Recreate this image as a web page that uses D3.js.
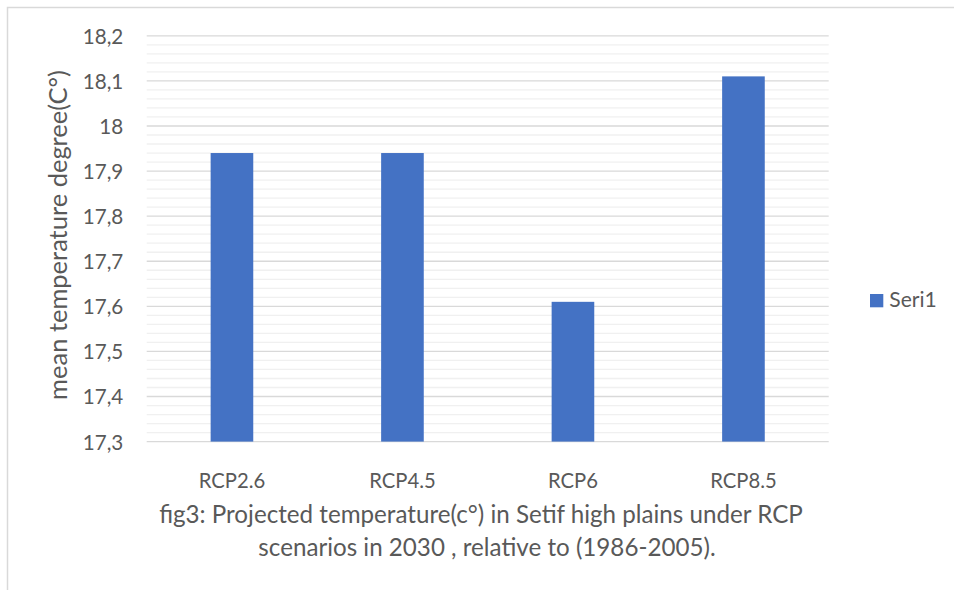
<!DOCTYPE html>
<html><head><meta charset="utf-8">
<script src="https://cdn.jsdelivr.net/npm/d3@7"></script>
<style>body{margin:0;background:#fff}svg{display:block}text{font-family:Lato,"Open Sans",sans-serif;fill:#595959}</style>
</head><body>
<svg id="c" width="954" height="590"></svg>
<script>
const categories = ["RCP2.6", "RCP4.5", "RCP6", "RCP8.5"];
const values = [17.94, 17.94, 17.61, 18.11];
const seriesName = "Seri1";
const majorTicks = [17.3, 17.4, 17.5, 17.6, 17.7, 17.8, 17.9, 18.0, 18.1, 18.2];
const minorTicks = d3.range(0, 46).map(i => +(17.3 + i * 0.02).toFixed(2));
const yTitle = "mean temperature degree(C°)";
const caption = ["fig3: Projected temperature(c°) in Setif high plains under RCP", "scenarios in 2030 , relative to (1986-2005)."];

const svg = d3.select("#c");
const m = {left: 146.7, right: 828.7, top: 35.8, bottom: 441.6};

// size a font so that a sample string reaches a target width
function fitSize(sample, target) {
  const t = svg.append("text").style("font-size", "20px").text(sample);
  const w = t.node().getComputedTextLength();
  t.remove();
  return 20 * target / w;
}
const tickSize = fitSize("18,2", 40.6);
const catSize = fitSize("RCP2.6", 66.5);
const capSize = fitSize(caption[0], 644);
const titleSize = fitSize(yTitle, 330);
const legSize = fitSize(seriesName, 47.4);

svg.append("rect").attr("x", 7.5).attr("y", 7.5).attr("width", 980).attr("height", 620)
  .attr("fill", "#fff").attr("stroke", "#d9d9d9").attr("stroke-width", 1.5);

const x = d3.scaleBand().domain(categories).range([m.left, m.right]).paddingInner(0.75).paddingOuter(0.375);
const y = d3.scaleLinear().domain([17.3, 18.2]).range([m.bottom, m.top]);

// minor gridlines
svg.append("g").selectAll("line").data(minorTicks.filter(t => !majorTicks.some(mt => Math.abs(mt - t) < 1e-6)))
  .join("line").attr("x1", m.left).attr("x2", m.right)
  .attr("y1", d => y(d)).attr("y2", d => y(d)).attr("stroke", "#f0f0f0").attr("stroke-width", 1.3);
// major gridlines
svg.append("g").selectAll("line").data(majorTicks)
  .join("line").attr("x1", m.left).attr("x2", m.right)
  .attr("y1", d => y(d)).attr("y2", d => y(d)).attr("stroke", "#d9d9d9").attr("stroke-width", 1.3);

// y axis labels
const fmt = d => d3.format(".1f")(d).replace(/\.0$/, "").replace(".", ",");
const yAxis = d3.axisLeft(y).tickValues(majorTicks).tickFormat(fmt).tickSize(0).tickPadding(0);
const gy = svg.append("g").attr("transform", `translate(${123.3},0)`).call(yAxis);
gy.select(".domain").remove();
gy.attr("font-family", null).attr("font-size", null);
gy.selectAll("text").style("font-size", tickSize + "px").attr("fill", "#595959").attr("dy", "0.36em");

// bars
svg.append("g").selectAll("rect").data(values).join("rect")
  .attr("x", (d, i) => x(categories[i])).attr("width", x.bandwidth())
  .attr("y", d => y(d)).attr("height", d => y(17.3) - y(d))
  .attr("fill", "#4472C4");

// x axis labels
const xAxis = d3.axisBottom(x).tickSize(0).tickPadding(0);
const gx = svg.append("g").attr("transform", `translate(0,${m.bottom})`).call(xAxis);
gx.select(".domain").remove();
gx.attr("font-family", null).attr("font-size", null);
gx.selectAll("text").style("font-size", catSize + "px").attr("fill", "#595959").attr("dy", null).attr("y", 46);

// y title
svg.append("text").attr("transform", `translate(66.5,235) rotate(-90)`).attr("text-anchor", "middle")
  .style("font-size", titleSize + "px").text(yTitle);

// caption
const capX = [481, 487];
svg.append("g").selectAll("text").data(caption).join("text")
  .attr("x", (d, i) => capX[i]).attr("y", (d, i) => 522.5 + i * 33.5).attr("text-anchor", "middle")
  .style("font-size", capSize + "px").text(d => d);

// legend
const lg = svg.append("g").attr("transform", "translate(870,294)");
lg.append("rect").attr("width", 13.3).attr("height", 13.3).attr("fill", "#4472C4");
lg.append("text").attr("x", 19.3).attr("y", 13.3).style("font-size", legSize + "px").text(seriesName);
</script>
</body></html>
